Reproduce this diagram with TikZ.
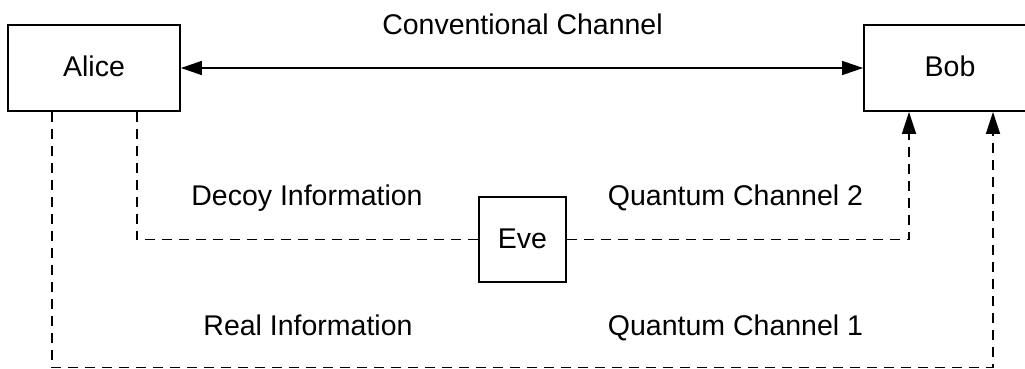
\documentclass[tikz,border=0pt]{standalone}
\usepackage{fontspec}
\setmainfont{Liberation Sans}
\usetikzlibrary{arrows.meta}

\tikzset{
  party/.style={draw, line width=1.8pt, inner sep=0pt, minimum width=172pt,
    minimum height=86pt, text height=18pt, text depth=0pt},
  spy/.style={draw, line width=1.8pt, inner sep=0pt, minimum width=87pt,
    minimum height=85pt, text height=18pt, text depth=0pt},
  label/.style={anchor=base, inner sep=0pt},
  classical/.style={line width=1.5pt, {Triangle[length=21pt,width=14pt]}-{Triangle[length=21pt,width=14pt]}},
  quantum/.style={line width=1.5pt, dash pattern=on 10pt off 7pt},
  quantumarrow/.style={quantum, -{Triangle[length=22pt,width=14pt]}}
}

\begin{document}
\begin{tikzpicture}[x=1pt, y=-1pt, font=\fontsize{28.5}{34}\selectfont]
  \useasboundingbox (0,0) rectangle (1025,369);

  % parties
  \node[party] (alice) at (94,68) {Alice};
  \node[party] (bob) at (950,68) {Bob};
  \node[spy] (eve) at (522.5,239.5) {Eve};

  % turning points of the quantum links
  \coordinate (decoyx) at (137,0);
  \coordinate (realx) at (52,0);
  \coordinate (qtwox) at (909,0);
  \coordinate (qonex) at (993,0);
  \coordinate (realy) at (0,367.5);

  % classical channel
  \draw[classical] (alice.east) -- (bob.west);
  \node[label] (conv) at (522.5,35) {Conventional Channel};

  % quantum channel 2, through Eve
  \draw[quantum] (alice.south -| decoyx) |- (eve.west);
  \draw[quantumarrow] (eve.east) -| (bob.south -| qtwox);
  \node[label] (decoy) at (307,205) {Decoy Information};
  \node[label] (qtwo) at (735.5,205) {Quantum Channel 2};

  % quantum channel 1
  \draw[quantumarrow] (alice.south -| realx) -- (realx |- realy)
    -- (qonex |- realy) -- (bob.south -| qonex);
  \node[label] (real) at (308,335) {Real Information};
  \node[label] (qone) at (735.5,335) {Quantum Channel 1};
\end{tikzpicture}
\end{document}
